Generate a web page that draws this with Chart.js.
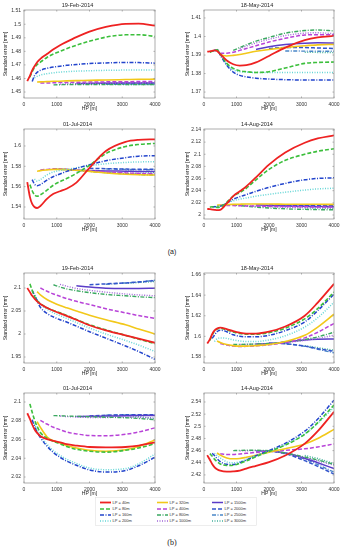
<!DOCTYPE html>
<html>
<head>
<meta charset="utf-8">
<script src="https://cdn.jsdelivr.net/npm/chart.js@4.4.1/dist/chart.umd.min.js"></script>
<style>
  body { margin: 0; background: #fff; width: 343px; height: 550px; position: relative; overflow: hidden; }
  canvas { position: absolute; }
  .lab { position: absolute; width: 40px; text-align: center; color: #222; }
  #legend { position: absolute; left: 95px; top: 497px; }
</style>
</head>
<body>
<div class="lab" style="left:152px; top:248px; font: 7px 'Liberation Sans', Arial, sans-serif;">(a)</div>
<div class="lab" style="left:152px; top:538px; font: 8px 'Liberation Serif', serif;">(b)</div>
<svg id="legend" width="162" height="29"></svg>
<script>
// HP grid shared by every panel (series start later for bigger LP)
const HP = [100, 180, 250, 320, 400, 500, 700, 900, 1100, 1300, 1600, 2000, 2500, 3100, 3500, 4000];
const LP = ['LP = 40m', 'LP = 80m', 'LP = 160m', 'LP = 200m', 'LP = 320m', 'LP = 400m',
            'LP = 800m', 'LP = 1000m', 'LP = 1500m', 'LP = 2000m', 'LP = 2500m', 'LP = 3000m'];
const X_TICKS = [0, 1000, 2000, 3000, 4000];

// (a) 19-Feb-2014
const febA = [
  [1.458, 1.462, 1.466, 1.469, 1.472, 1.4745, 1.478, 1.4815, 1.4845, 1.487, 1.4905, 1.4945, 1.498, 1.5003, 1.5004, 1.499],
  [1.461, 1.465, 1.468, 1.4702, 1.472, 1.4755, 1.478, 1.480, 1.482, 1.4845, 1.4875, 1.4905, 1.4922, 1.4923, 1.491],
  [1.4578, 1.462, 1.4645, 1.466, 1.4675, 1.4685, 1.469, 1.4697, 1.4703, 1.471, 1.4715, 1.4718, 1.4717, 1.4713],
  [1.4605, 1.4615, 1.4625, 1.4635, 1.4642, 1.4647, 1.465, 1.4654, 1.4657, 1.466, 1.4662, 1.4663, 1.4663],
  [1.4574, 1.4575, 1.4577, 1.4579, 1.458, 1.4582, 1.4584, 1.4586, 1.4589, 1.4592, 1.4594, 1.4595],
  [1.4566, 1.4567, 1.4568, 1.457, 1.4571, 1.4572, 1.4574, 1.4575, 1.4576, 1.4577, 1.4577],
  [1.4553, 1.4554, 1.4555, 1.4556, 1.4556, 1.4556, 1.4556, 1.4556, 1.4555],
  [1.4558, 1.456, 1.4562, 1.4564, 1.4566, 1.4567, 1.4568, 1.4568],
  [1.4562, 1.4563, 1.4565, 1.4566, 1.4566, 1.4566],
  [1.4563, 1.4564, 1.4565, 1.4565, 1.4564],
  [1.4557, 1.4558, 1.4558, 1.4558],
  [1.4555, 1.4555, 1.4555]
];
// (a) 18-May-2014
const mayA = [
  [1.3918, 1.392, 1.3922, 1.3925, 1.3922, 1.3905, 1.387, 1.385, 1.3843, 1.3845, 1.386, 1.3895, 1.394, 1.398, 1.3995, 1.4003],
  [1.3915, 1.392, 1.3926, 1.3928, 1.3905, 1.3855, 1.3828, 1.3815, 1.381, 1.3806, 1.381, 1.383, 1.3855, 1.386, 1.3862],
  [1.392, 1.3925, 1.393, 1.390, 1.3845, 1.3808, 1.379, 1.3782, 1.3775, 1.377, 1.3767, 1.3765, 1.3765, 1.3765],
  [1.392, 1.3925, 1.390, 1.385, 1.382, 1.381, 1.3808, 1.3805, 1.3805, 1.3805, 1.3805, 1.3805, 1.3805],
  [1.393, 1.3905, 1.3895, 1.3898, 1.3903, 1.391, 1.392, 1.393, 1.394, 1.395, 1.3955, 1.3957],
  [1.391, 1.391, 1.3915, 1.3925, 1.3935, 1.395, 1.397, 1.399, 1.4008, 1.401, 1.401],
  [1.3925, 1.394, 1.3955, 1.3975, 1.3995, 1.4018, 1.4032, 1.4035, 1.403],
  [1.3935, 1.3948, 1.3965, 1.3985, 1.4005, 1.4018, 1.402, 1.4015],
  [1.393, 1.3945, 1.3957, 1.3964, 1.3966, 1.3965],
  [1.3935, 1.394, 1.394, 1.3938, 1.3935],
  [1.3922, 1.3921, 1.392, 1.392],
  [1.3915, 1.3914, 1.3913]
];
// (a) 01-Jul-2014
const julA = [
  [1.5645, 1.550, 1.543, 1.540, 1.539, 1.541, 1.548, 1.553, 1.5555, 1.558, 1.564, 1.5785, 1.595, 1.604, 1.606, 1.6065],
  [1.562, 1.556, 1.552, 1.5505, 1.552, 1.5565, 1.5615, 1.565, 1.568, 1.573, 1.581, 1.5925, 1.5995, 1.6015, 1.6025],
  [1.567, 1.5625, 1.561, 1.562, 1.5665, 1.570, 1.5725, 1.575, 1.578, 1.5815, 1.5855, 1.5885, 1.590, 1.5905],
  [1.5675, 1.5655, 1.567, 1.5715, 1.5745, 1.576, 1.577, 1.5785, 1.5805, 1.5825, 1.5838, 1.5843, 1.5845],
  [1.5752, 1.5758, 1.5765, 1.577, 1.577, 1.5768, 1.5762, 1.575, 1.5735, 1.5722, 1.5717, 1.5714],
  [1.5765, 1.577, 1.5775, 1.5775, 1.5772, 1.5765, 1.5755, 1.5745, 1.5735, 1.573, 1.5725],
  [1.5775, 1.5772, 1.5768, 1.576, 1.575, 1.5738, 1.5727, 1.572, 1.5715],
  [1.577, 1.5767, 1.5762, 1.5755, 1.5745, 1.5735, 1.573, 1.5725],
  [1.576, 1.5758, 1.5755, 1.5752, 1.575, 1.575],
  [1.578, 1.5777, 1.5773, 1.5771, 1.577],
  [1.5775, 1.577, 1.5767, 1.5765],
  [1.5755, 1.5748, 1.574]
];
// (a) 14-Aug-2014
const augA = [
  [2.010, 2.0095, 2.009, 2.0085, 2.008, 2.0085, 2.019, 2.031, 2.039, 2.047, 2.062, 2.083, 2.103, 2.119, 2.126, 2.131],
  [2.013, 2.0135, 2.013, 2.0125, 2.013, 2.021, 2.031, 2.037, 2.044, 2.058, 2.075, 2.09, 2.1, 2.105, 2.109],
  [2.0135, 2.0135, 2.014, 2.0145, 2.02, 2.026, 2.03, 2.0335, 2.039, 2.0455, 2.052, 2.058, 2.0602, 2.0612],
  [2.014, 2.0145, 2.015, 2.0195, 2.0235, 2.026, 2.028, 2.031, 2.034, 2.0375, 2.041, 2.043, 2.044],
  [2.016, 2.0165, 2.017, 2.0175, 2.0178, 2.018, 2.018, 2.018, 2.0178, 2.0177, 2.0176, 2.0175],
  [2.016, 2.0158, 2.0155, 2.0153, 2.015, 2.0147, 2.0143, 2.014, 2.0135, 2.0132, 2.013],
  [2.017, 2.0155, 2.0145, 2.013, 2.0115, 2.0102, 2.0092, 2.0088, 2.0085],
  [2.0165, 2.0155, 2.0145, 2.0135, 2.0127, 2.0122, 2.012, 2.0118],
  [2.0165, 2.0158, 2.015, 2.0143, 2.014, 2.0137],
  [2.0165, 2.016, 2.0157, 2.0155, 2.0153],
  [2.015, 2.0145, 2.0142, 2.014],
  [2.0115, 2.0113, 2.011]
];
// (b) 19-Feb-2014
const febB = [
  [2.1, 2.091, 2.083, 2.077, 2.071, 2.065, 2.057, 2.0505, 2.045, 2.0395, 2.031, 2.019, 2.008, 1.997, 1.990, 1.981],
  [2.109, 2.095, 2.082, 2.073, 2.066, 2.057, 2.051, 2.046, 2.0405, 2.0315, 2.02, 2.009, 1.997, 1.989, 1.979],
  [2.095, 2.085, 2.072, 2.058, 2.045, 2.037, 2.031, 2.026, 2.017, 2.005, 1.991, 1.974, 1.962, 1.945],
  [2.085, 2.075, 2.065, 2.054, 2.046, 2.04, 2.034, 2.025, 2.013, 2.0, 1.986, 1.976, 1.962],
  [2.092, 2.085, 2.075, 2.068, 2.062, 2.057, 2.05, 2.041, 2.031, 2.02, 2.011, 2.0],
  [2.1, 2.093, 2.087, 2.082, 2.077, 2.071, 2.064, 2.055, 2.046, 2.04, 2.034],
  [2.107, 2.102, 2.098, 2.094, 2.09, 2.086, 2.083, 2.081, 2.079],
  [2.108, 2.104, 2.099, 2.095, 2.091, 2.087, 2.085, 2.083],
  [2.105, 2.102, 2.0995, 2.099, 2.099, 2.0995],
  [2.107, 2.109, 2.111, 2.113, 2.116],
  [2.108, 2.111, 2.113, 2.117],
  [2.11, 2.112, 2.114]
];
// (b) 18-May-2014
const mayB = [
  [1.593, 1.597, 1.602, 1.6055, 1.6075, 1.6085, 1.607, 1.605, 1.6035, 1.6027, 1.6027, 1.6045, 1.6095, 1.620, 1.6328, 1.651],
  [1.596, 1.601, 1.605, 1.607, 1.6078, 1.6062, 1.6043, 1.6027, 1.602, 1.602, 1.6035, 1.608, 1.617, 1.627, 1.643],
  [1.598, 1.601, 1.6045, 1.606, 1.6045, 1.6015, 1.6, 1.5995, 1.5995, 1.601, 1.6055, 1.614, 1.625, 1.641],
  [1.595, 1.5975, 1.5985, 1.598, 1.5965, 1.5955, 1.595, 1.595, 1.5965, 1.6005, 1.609, 1.618, 1.633],
  [1.5955, 1.594, 1.592, 1.591, 1.5905, 1.5905, 1.591, 1.592, 1.595, 1.601, 1.609, 1.6215],
  [1.593, 1.5915, 1.5905, 1.5902, 1.5903, 1.5908, 1.5918, 1.594, 1.5985, 1.604, 1.6125],
  [1.592, 1.5921, 1.5923, 1.5925, 1.593, 1.5945, 1.597, 1.5995, 1.604],
  [1.592, 1.5922, 1.5925, 1.593, 1.594, 1.596, 1.598, 1.601],
  [1.5925, 1.593, 1.5945, 1.5965, 1.5972, 1.5975],
  [1.5935, 1.5928, 1.5905, 1.588, 1.5855],
  [1.593, 1.5903, 1.5875, 1.584],
  [1.591, 1.589, 1.5865]
];
// (b) 01-Jul-2014
const julB = [
  [2.088, 2.082, 2.076, 2.071, 2.067, 2.0635, 2.0605, 2.0585, 2.057, 2.055, 2.0535, 2.052, 2.0515, 2.052, 2.0535, 2.057],
  [2.098, 2.089, 2.081, 2.074, 2.0675, 2.0615, 2.058, 2.0555, 2.0525, 2.0495, 2.0475, 2.0465, 2.0485, 2.051, 2.0555],
  [2.081, 2.074, 2.068, 2.062, 2.053, 2.046, 2.041, 2.037, 2.0325, 2.0275, 2.0253, 2.027, 2.032, 2.041],
  [2.077, 2.07, 2.064, 2.055, 2.048, 2.043, 2.039, 2.0345, 2.0295, 2.0278, 2.029, 2.034, 2.0445],
  [2.079, 2.073, 2.063, 2.0585, 2.0565, 2.0535, 2.051, 2.0485, 2.0475, 2.049, 2.0525, 2.0595],
  [2.0805, 2.0765, 2.073, 2.0705, 2.068, 2.066, 2.0643, 2.064, 2.0655, 2.068, 2.0725],
  [2.0855, 2.0853, 2.085, 2.0847, 2.0843, 2.0838, 2.0832, 2.0825, 2.081],
  [2.085, 2.0845, 2.084, 2.0835, 2.0835, 2.0838, 2.0835, 2.083],
  [2.0845, 2.0848, 2.085, 2.0853, 2.0855, 2.0855],
  [2.085, 2.0858, 2.0864, 2.0865, 2.0865],
  [2.086, 2.0861, 2.0861, 2.086],
  [2.086, 2.0845, 2.082]
];
// (b) 14-Aug-2014
const augB = [
  [2.4525, 2.445, 2.438, 2.433, 2.4295, 2.427, 2.4255, 2.4258, 2.427, 2.4305, 2.435, 2.441, 2.452, 2.4715, 2.492, 2.524],
  [2.455, 2.451, 2.446, 2.442, 2.438, 2.4355, 2.436, 2.439, 2.443, 2.45, 2.4585, 2.469, 2.487, 2.506, 2.535],
  [2.4555, 2.452, 2.447, 2.442, 2.4375, 2.437, 2.44, 2.4445, 2.4515, 2.46, 2.472, 2.492, 2.512, 2.543],
  [2.4555, 2.452, 2.448, 2.4415, 2.44, 2.4415, 2.4455, 2.452, 2.459, 2.47, 2.4875, 2.505, 2.531],
  [2.456, 2.4525, 2.448, 2.4465, 2.447, 2.449, 2.4525, 2.4575, 2.463, 2.471, 2.48, 2.495],
  [2.455, 2.4535, 2.4535, 2.4545, 2.4555, 2.457, 2.4585, 2.4605, 2.463, 2.466, 2.471],
  [2.46, 2.4603, 2.4605, 2.4605, 2.46, 2.456, 2.4495, 2.4445, 2.4375],
  [2.4595, 2.4598, 2.46, 2.4595, 2.4555, 2.4485, 2.443, 2.436],
  [2.4595, 2.4592, 2.456, 2.4475, 2.44, 2.4305],
  [2.4595, 2.455, 2.4435, 2.434, 2.4215],
  [2.456, 2.446, 2.437, 2.4245],
  [2.452, 2.447, 2.4385]
];

// y tick labels of each panel
const febA_ticks = [1.45, 1.46, 1.47, 1.48, 1.49, 1.5, 1.51];
const mayA_ticks = [1.37, 1.38, 1.39, 1.4, 1.41];
const julA_ticks = [1.54, 1.56, 1.58, 1.6];
const augA_ticks = [2, 2.02, 2.04, 2.06, 2.08, 2.1, 2.12, 2.14];
const febB_ticks = [1.95, 2, 2.05, 2.1];
const mayB_ticks = [1.58, 1.6, 1.62, 1.64, 1.66];
const julB_ticks = [2.02, 2.04, 2.06, 2.08, 2.1];
const augB_ticks = [2.42, 2.44, 2.46, 2.48, 2.5, 2.52, 2.54];

// line styles, one per LP
const COLORS = ['#ee2222', '#3cbf3c', '#2244cc', '#66d6d6', '#f2c81a', '#b843d8',
                '#3aa860', '#a066d8', '#5a3cc8', '#3355cc', '#4a86c8', '#44b09c'];
const DASH_ = [4, 2], DOT = [1, 1.5], DASHDOT = [4, 1.5, 1, 1.5];
const DASHES = [[], DASH_, DASHDOT, DOT, [], DASH_, DASHDOT, DOT, [], DASH_, DASHDOT, DOT];
const WIDTHS = [1.8, 1.6, 1.5, 1.5, 1.6, 1.5, 1.4, 1.4, 1.5, 1.5, 1.4, 1.4];

const FONT = "'Liberation Sans', Arial, sans-serif";

// the series for larger LP start further along HP, fill the front with nulls
function pad(vals) {
  return Array(HP.length - vals.length).fill(null).concat(vals);
}

const framePlugin = {
  id: 'frame',
  afterDatasetsDraw(chart) {
    const { ctx, chartArea: a, scales } = chart;
    ctx.save();
    ctx.strokeStyle = '#9a9a9a';
    ctx.lineWidth = 0.8;
    ctx.strokeRect(a.left, a.top, a.right - a.left, a.bottom - a.top);
    ctx.beginPath();
    scales.x.ticks.forEach((t, i) => {
      const x = scales.x.getPixelForTick(i);
      ctx.moveTo(x, a.bottom); ctx.lineTo(x, a.bottom - 1.5);
      ctx.moveTo(x, a.top); ctx.lineTo(x, a.top + 1.5);
    });
    scales.y.ticks.forEach((t, i) => {
      const y = scales.y.getPixelForTick(i);
      ctx.moveTo(a.left, y); ctx.lineTo(a.left + 1.5, y);
      ctx.moveTo(a.right, y); ctx.lineTo(a.right - 1.5, y);
    });
    ctx.stroke();
    ctx.restore();
  }
};

function makePanel(title, series, yTicks, yMin, yMax, frame, boxLeft, yTitlePad) {
  const [fl, ft, fr, fb] = frame;
  const top = ft - 10;
  const w = fr + 10 - boxLeft;
  const h = 10 + (fb - ft) + 16;
  const cv = document.createElement('canvas');
  cv.width = w; cv.height = h;
  cv.style.left = boxLeft + 'px';
  cv.style.top = top + 'px';
  document.body.appendChild(cv);

  new Chart(cv, {
    type: 'line',
    data: {
      labels: HP,
      datasets: series.map((vals, i) => ({
        label: LP[i],
        data: pad(vals),
        borderColor: COLORS[i],
        borderDash: DASHES[i],
        borderWidth: WIDTHS[i],
        pointRadius: 0,
        fill: false,
        cubicInterpolationMode: 'monotone'
      }))
    },
    options: {
      responsive: false,
      animation: false,
      layout: { padding: { top: 2.2, right: 10, bottom: 0, left: 0 } },
      plugins: {
        legend: { display: false },
        tooltip: { enabled: false },
        title: { display: true, text: title, color: '#222', font: { family: FONT, size: 5.5, weight: 'normal' }, padding: { top: 0, bottom: 1.2 } }
      },
      scales: {
        x: {
          type: 'linear', min: 0, max: 4000,
          afterBuildTicks: s => { s.ticks = X_TICKS.map(v => ({ value: v })); },
          afterFit: s => { s.height = 16; },
          grid: { display: false, drawTicks: false },
          border: { display: false },
          ticks: { color: '#333', font: { family: FONT, size: 5 }, padding: 3.5, maxRotation: 0, callback: v => String(v) },
          title: { display: true, text: 'HP [m]', color: '#222', font: { family: FONT, size: 5 }, padding: { top: 0, bottom: 2 } }
        },
        y: {
          min: yMin, max: yMax,
          afterBuildTicks: s => { s.ticks = yTicks.map(v => ({ value: v })); },
          afterFit: s => { s.width = fl - boxLeft; },
          grid: { display: false, drawTicks: false },
          border: { display: false },
          ticks: { color: '#333', font: { family: FONT, size: 5 }, padding: 3, callback: v => String(v) },
          title: { display: true, text: 'Standard error [mm]', color: '#222', font: { family: FONT, size: 5 }, padding: { top: yTitlePad, bottom: 0 } }
        }
      }
    },
    plugins: [framePlugin]
  });
}

makePanel('19-Feb-2014', febA, febA_ticks, 1.4456, 1.5105, [24, 10, 155, 98], 0, 3);
makePanel('18-May-2014', mayA, mayA_ticks, 1.3668, 1.4143, [204, 10, 334, 98], 180, 5);
makePanel('01-Jul-2014', julA, julA_ticks, 1.5282, 1.6167, [24, 129, 155, 219], 0, 3);
makePanel('14-Aug-2014', augA, augA_ticks, 1.9934, 2.1416, [204, 129, 334, 219], 180, 5);
makePanel('19-Feb-2014', febB, febB_ticks, 1.937, 2.1326, [24, 273, 155, 363], 0, 3);
makePanel('18-May-2014', mayB, mayB_ticks, 1.5741, 1.6615, [204, 273, 334, 363], 180, 5);
makePanel('01-Jul-2014', julB, julB_ticks, 2.0136, 2.1096, [24, 393, 155, 483], 0, 3);
makePanel('14-Aug-2014', augB, augB_ticks, 2.4067, 2.5548, [204, 393, 334, 483], 180, 5);

// legend: 3 columns x 4 rows, column-major like the figure
const svg = document.getElementById('legend');
const colX = [5, 62, 117];
const rowY = [5.5, 12, 18, 24];
let sv = '<rect x="0.5" y="0.5" width="161" height="28" fill="#fff" stroke="#e2e2e2" stroke-width="0.6"/>';
LP.forEach((name, i) => {
  const c = Math.floor(i / 4), r = i % 4;
  const x = colX[c], y = rowY[r];
  const dash = DASHES[i].length ? ` stroke-dasharray="${DASHES[i].join(' ')}"` : '';
  sv += `<line x1="${x}" y1="${y}" x2="${x + 11}" y2="${y}" stroke="${COLORS[i]}" stroke-width="${WIDTHS[i]}"${dash}/>`;
  sv += `<text x="${x + 12.5}" y="${y + 1.4}" font-family="Liberation Sans, Arial, sans-serif" font-size="4" fill="#333">${name}</text>`;
});
svg.innerHTML = sv;
</script>
</body>
</html>
